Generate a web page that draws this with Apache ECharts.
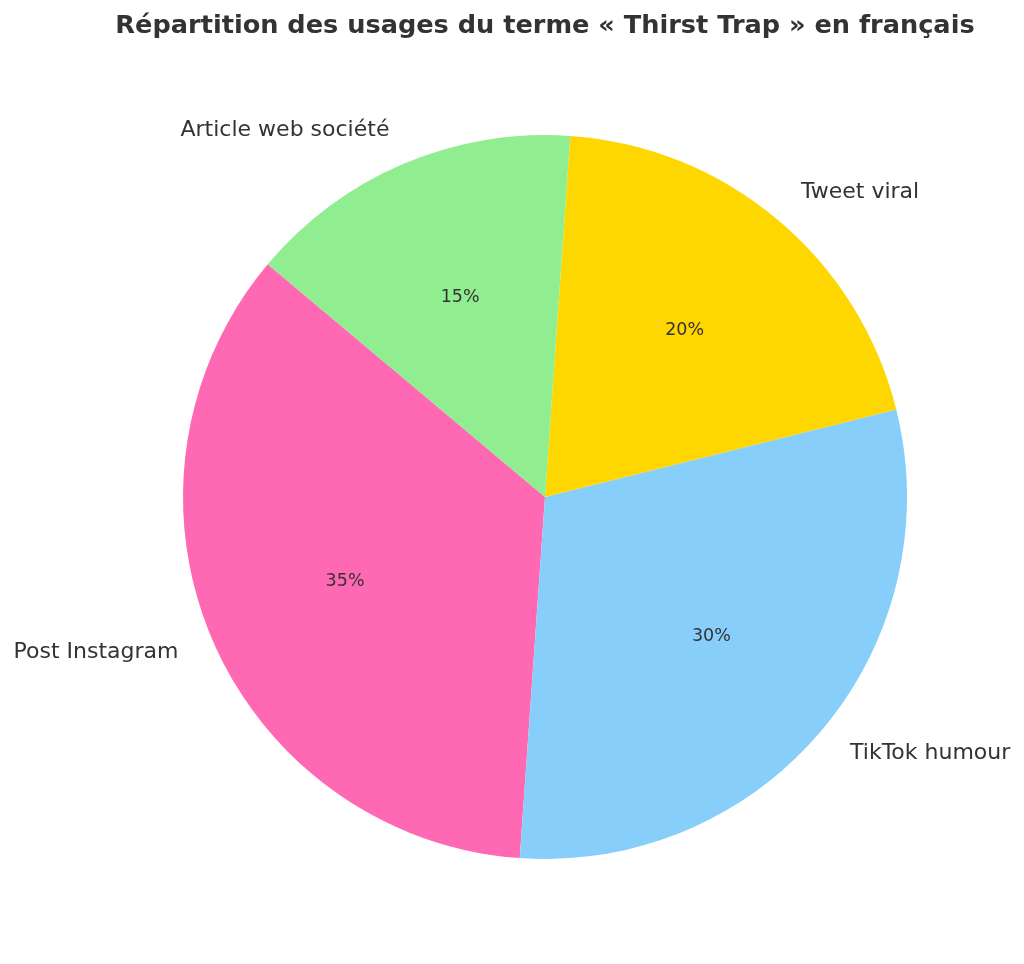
<!DOCTYPE html>
<html>
<head>
<meta charset="utf-8">
<script src="https://cdn.jsdelivr.net/npm/echarts@6/dist/echarts.min.js"></script>
<style>
html,body{margin:0;padding:0;background:#fff;}
#chart{width:1024px;height:964px;}
</style>
</head>
<body>
<div id="chart"></div>
<script>
const titleText = "Répartition des usages du terme « Thirst Trap » en français";
const categories = ["Post Instagram", "TikTok humour", "Tweet viral", "Article web société"];
const values = [35, 30, 20, 15];
const colors = ["#FF69B4", "#87CEFA", "#FFD700", "#90EE90"];

const R = 362;
const CX = 545, CY = 497;
const FONT = "DejaVu Sans";
const total = values.reduce((a, b) => a + b, 0);

const chart = echarts.init(document.getElementById('chart'), null, {renderer: 'canvas'});

const mainData = categories.map((c, i) => ({
  name: c, value: values[i], itemStyle: {color: colors[i]}
}));
const pctData = categories.map((c, i) => ({
  name: c, value: values[i]
}));

chart.setOption({
  backgroundColor: '#ffffff',
  animation: false,
  title: {
    text: titleText,
    left: 545,
    textAlign: 'center',
    top: 13,
    padding: 0,
    textStyle: {fontFamily: FONT, fontSize: 25.6, fontWeight: 'bold', color: '#333333'}
  },
  series: [
    {
      type: 'pie',
      center: [CX, CY],
      radius: [0, R],
      startAngle: 140,
      clockwise: false,
      avoidLabelOverlap: false,
      silent: true,
      data: mainData,
      itemStyle: {borderWidth: 0},
      label: {
        show: true,
        position: 'outside',
        distanceToLabelLine: 0,
        fontFamily: FONT,
        fontSize: 22,
        color: '#333333',
        formatter: p => p.name
      },
      labelLine: {show: false, length: R * 0.1, length2: 0}
    },
    {
      type: 'pie',
      center: [CX, CY],
      radius: [0, R * 1.2 - 6],
      startAngle: 140,
      clockwise: false,
      avoidLabelOverlap: false,
      silent: true,
      data: pctData,
      itemStyle: {color: 'rgba(0,0,0,0)', borderWidth: 0},
      label: {
        show: true,
        position: 'inside',
        fontFamily: FONT,
        fontSize: 17.5,
        color: '#333333',
        formatter: p => Math.round(values[p.dataIndex] / total * 100) + '%'
      },
      labelLine: {show: false}
    }
  ]
});
</script>
</body>
</html>
